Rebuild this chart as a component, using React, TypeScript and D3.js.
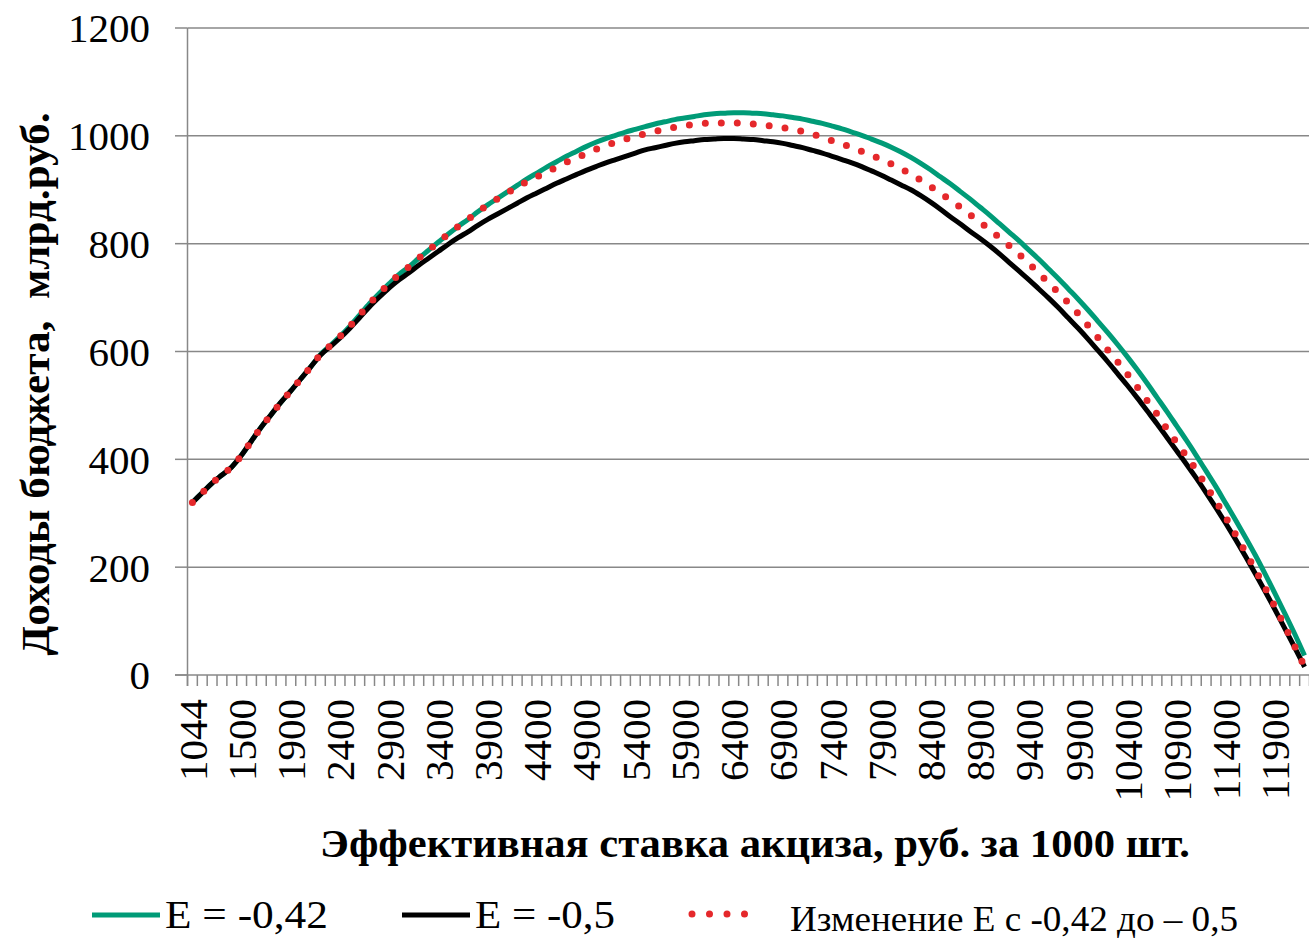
import React from "react";
import * as d3 from "d3";

const categories: number[] = [1044, 1100, 1200, 1300, 1400, 1500, 1600, 1700, 1800, 1850, ...d3.range(1900, 12201, 100)];

const seriesBlack: number[] = [
  320, 338, 356, 371, 386, 408, 434, 460, 483, 506,
  527, 549, 571, 593, 609, 625, 643, 663, 683, 701,
  718, 733, 746, 760, 773, 786, 799, 811, 822, 834,
  845, 855, 865, 875, 885, 894, 903, 912, 920, 928,
  936, 943, 950, 956, 962, 968, 974, 978, 982, 986,
  989, 991, 993, 994, 995, 995, 994, 993, 991, 989,
  986, 982, 978, 973, 968, 962, 956, 950, 943, 935,
  927, 918, 909, 900, 889, 877, 864, 850, 837, 823,
  810, 796, 781, 765, 749, 733, 716, 699, 681, 662,
  643, 623, 602, 581, 559, 537, 514, 490, 466, 441,
  416, 391, 365, 338, 310, 281, 251, 220, 188, 155,
  121, 86, 51, 15,
];

const seriesGreen: number[] = [
  320, 338, 356, 371, 386, 408, 434, 460, 483, 506,
  527, 549, 571, 594, 611, 628, 647, 668, 689, 708,
  726, 743, 757, 773, 788, 803, 818, 832, 845, 859,
  872, 884, 896, 908, 920, 931, 942, 952, 962, 971,
  980, 988, 995, 1001, 1007, 1012, 1017, 1022, 1026, 1030,
  1033, 1036, 1039, 1041, 1042, 1043, 1043, 1042, 1041, 1039,
  1037, 1034, 1031, 1027, 1023, 1018, 1013, 1007, 1001, 994,
  987, 979, 970, 960, 949, 937, 924, 911, 897, 883,
  868, 853, 837, 821, 805, 788, 771, 753, 735, 716,
  697, 677, 656, 635, 613, 590, 566, 541, 515, 489,
  462, 435, 407, 378, 349, 318, 287, 255, 222, 187,
  151, 114, 76, 36,
];

const seriesRed: number[] = [
  320, 338, 356, 371, 386, 408, 434, 460, 483, 506,
  527, 549, 571, 594, 611, 628, 647, 668, 689, 708,
  726, 743, 757, 773, 788, 803, 818, 832, 845, 859,
  872, 883, 894, 905, 915, 924, 933, 942, 951, 959,
  967, 975, 982, 988, 994, 999, 1004, 1008, 1012, 1016,
  1019, 1021, 1023, 1024, 1024, 1024, 1023, 1022, 1020, 1018,
  1015, 1012, 1008, 1003, 997, 991, 985, 978, 971, 964,
  956, 948, 939, 929, 918, 906, 894, 881, 868, 854,
  840, 826, 811, 796, 780, 763, 745, 727, 709, 690,
  670, 648, 626, 603, 581, 558, 534, 509, 484, 457,
  431, 406, 380, 351, 322, 292, 260, 228, 195, 161,
  126, 90, 53, 15,
];

const yTicks: number[] = [0, 200, 400, 600, 800, 1000, 1200];

const legendLabels: string[] = ["E = -0,42", "E = -0,5", "Изменение E с -0,42 до – 0,5"];
const yTitle = "Доходы бюджета,\u00A0 млрд.руб.";
const xTitle = "Эффективная ставка акциза, руб. за 1000 шт.";

const W = 1309;
const H = 938;
const plotLeft = 187.5;
const plotRight = 1309.5;
const plotTop = 28;
const plotBottom = 675;
const GREEN = "#009B77";
const RED = "#E5282B";
const GRID = "#888888";
const FONT = "'Liberation Serif', 'Times New Roman', serif";

export default function App() {
  const idx = categories.map((_, i) => i);
  const x = d3.scaleBand<number>().domain(idx).range([plotLeft, plotRight]).paddingInner(0).paddingOuter(0);
  const bw = x.bandwidth();
  const cx = (i: number) => (x(i) as number) + bw / 2;
  const y = d3.scaleLinear().domain([0, 1200]).range([plotBottom, plotTop]);

  const line = d3
    .line<number>()
    .x((_, i) => cx(i))
    .y((d) => y(d))
    .curve(d3.curveMonotoneX);

  const tickXs = d3.range(categories.length + 1).map((k) => plotLeft + k * bw);

  return (
    <div style={{ position: "absolute", left: 0, top: 0 }}>
      <svg width={W} height={H} style={{ display: "block", background: "#fff" }} fontFamily={FONT}>
        {/* grid lines */}
        {yTicks.filter((t) => t > 0).map((t) => (
          <line key={t} x1={plotLeft} x2={W} y1={y(t)} y2={y(t)} stroke={GRID} strokeWidth={1.5} />
        ))}
        {/* y axis */}
        <line x1={plotLeft} x2={plotLeft} y1={plotTop} y2={plotBottom + 11} stroke={GRID} strokeWidth={1.5} />
        {yTicks.map((t) => (
          <line key={"yt" + t} x1={175} x2={plotLeft} y1={y(t)} y2={y(t)} stroke={GRID} strokeWidth={1.5} />
        ))}
        {yTicks.map((t) => (
          <text key={"yl" + t} x={150} y={y(t)} dy="0.35em" textAnchor="end" fontSize={41} fill="#000">
            {t}
          </text>
        ))}
        {/* x axis */}
        <line x1={175} x2={W} y1={plotBottom} y2={plotBottom} stroke={GRID} strokeWidth={1.5} />
        {tickXs.map((tx, k) => (
          <line key={"xt" + k} x1={tx} x2={tx} y1={plotBottom} y2={plotBottom + 11} stroke={GRID} strokeWidth={1.5} />
        ))}
        {categories.map((c, i) =>
          i % 5 === 0 ? (
            <text
              key={"xl" + i}
              transform={`translate(${cx(i)},${plotBottom + 24}) rotate(-90)`}
              dy="0.35em"
              textAnchor="end"
              fontSize={41}
              fill="#000"
            >
              {c}
            </text>
          ) : null
        )}
        {/* series */}
        <path d={line(seriesGreen) || ""} fill="none" stroke={GREEN} strokeWidth={5} />
        <path d={line(seriesBlack) || ""} fill="none" stroke="#000" strokeWidth={5} />
        <path
          d={line(seriesRed) || ""}
          fill="none"
          stroke={RED}
          strokeWidth={7}
          strokeDasharray="0 16"
          strokeLinecap="round"
        />
        {/* axis titles */}
        <text
          transform={`translate(35,384) rotate(-90)`}
          dy="0.35em"
          textAnchor="middle"
          fontSize={41}
          fontWeight="bold"
          fill="#000"
          textLength={543}
          lengthAdjust="spacingAndGlyphs"
        >
          {yTitle}
        </text>
        <text
          x={755}
          y={857}
          textAnchor="middle"
          fontSize={41}
          fontWeight="bold"
          fill="#000"
          textLength={870}
          lengthAdjust="spacingAndGlyphs"
        >
          {xTitle}
        </text>
        {/* legend */}
        <line x1={92} x2={160} y1={915} y2={915} stroke={GREEN} strokeWidth={5} />
        <text x={165} y={928} fontSize={41} fill="#000" textLength={163} lengthAdjust="spacingAndGlyphs">
          {legendLabels[0]}
        </text>
        <line x1={402} x2={470} y1={915} y2={915} stroke="#000" strokeWidth={5} />
        <text x={475} y={928} fontSize={41} fill="#000" textLength={140} lengthAdjust="spacingAndGlyphs">
          {legendLabels[1]}
        </text>
        <line
          x1={692}
          x2={762}
          y1={914}
          y2={914}
          stroke={RED}
          strokeWidth={7}
          strokeDasharray="0 17.5"
          strokeLinecap="round"
        />
        <text x={790} y={931} fontSize={36} fill="#000" textLength={448} lengthAdjust="spacingAndGlyphs">
          {legendLabels[2]}
        </text>
      </svg>
    </div>
  );
}
